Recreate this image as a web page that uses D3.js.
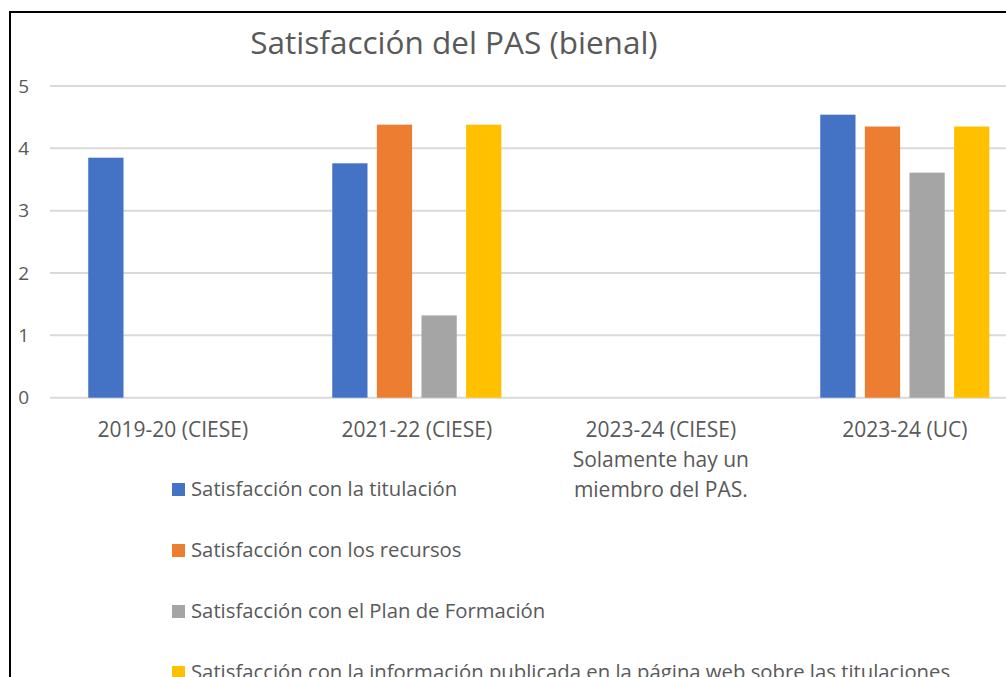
<!DOCTYPE html>
<html lang="es">

<head>
    <meta charset="UTF-8">
    <script src="https://d3js.org/d3.v7.min.js"></script>
    <title>Satisfacción del PAS (bienal)</title>
    <style>
        body { margin: 0; overflow: hidden; background: #fff; }
        text { font-family: "Open Sans", "Noto Sans", sans-serif; fill: #595959; }
    </style>
</head>

<body>
    <script>
        // datos
        var categories = ["2019-20 (CIESE)", "2021-22 (CIESE)", "2023-24 (CIESE)", "2023-24 (UC)"];
        var categoryNotes = [[], [], ["Solamente hay un", "miembro del PAS."], []];
        var seriesNames = [
            "Satisfacción con la titulación",
            "Satisfacción con los recursos",
            "Satisfacción con el Plan de Formación",
            "Satisfacción con la información publicada en la página web sobre las titulaciones"
        ];
        var titulacion = [3.85, 3.76, null, 4.54];
        var recursos = [null, 4.38, null, 4.35];
        var formacion = [null, 1.32, null, 3.61];
        var web = [null, 4.38, null, 4.35];
        var yTicks = [0, 1, 2, 3, 4, 5];
        var colors = ["#4472C4", "#ED7D31", "#A5A5A5", "#FFC000"];

        var w = 1006,
            h = 677;
        var seriesValues = [titulacion, recursos, formacion, web];

        var svg = d3.select("body").append("svg").attr("width", w).attr("height", h);

        // marco del gráfico (se sale por la derecha y por abajo)
        svg.append("rect")
            .attr("x", 10).attr("y", 12)
            .attr("width", 1100).attr("height", 800)
            .attr("fill", "#fff").attr("stroke", "#000").attr("stroke-width", 2);

        var x0 = d3.scaleBand().domain(categories).range([50.8, 1026.8])
            .paddingInner(0.307).paddingOuter(0.1535);
        var x1 = d3.scaleBand().domain(d3.range(seriesNames.length))
            .range([0, x0.bandwidth()]).paddingInner(0.21);
        var y = d3.scaleLinear().domain([0, 5]).range([397.7, 86]);

        // rejilla
        svg.append("g").selectAll("line").data(yTicks).enter().append("line")
            .attr("x1", 50).attr("x2", 1030)
            .attr("y1", function(d) { return y(d); })
            .attr("y2", function(d) { return y(d); })
            .attr("stroke", "#d9d9d9").attr("stroke-width", 2);

        var yAxis = svg.append("g").attr("transform", "translate(29,0)")
            .call(d3.axisLeft(y).tickValues(yTicks).tickSize(0).tickPadding(0).tickFormat(d3.format("d")));
        yAxis.select(".domain").remove();
        yAxis.selectAll("text").style("font-size", "19px").attr("fill", "#595959");

        // barras
        var groups = svg.append("g").selectAll("g").data(categories).enter().append("g")
            .attr("transform", function(d) { return "translate(" + x0(d) + ",0)"; });

        groups.selectAll("rect")
            .data(function(d, i) {
                return seriesValues.map(function(s, k) { return { k: k, v: s[i] }; })
                    .filter(function(e) { return e.v != null; });
            })
            .enter().append("rect")
            .attr("x", function(d) { return x1(d.k); })
            .attr("y", function(d) { return y(d.v); })
            .attr("width", x1.bandwidth())
            .attr("height", function(d) { return y(0) - y(d.v); })
            .attr("fill", function(d) { return colors[d.k]; });

        // etiquetas de categoría
        var xAxis = svg.append("g").attr("transform", "translate(0," + y(0) + ")")
            .call(d3.axisBottom(x0).tickSize(0).tickPadding(0));
        xAxis.select(".domain").remove();
        xAxis.selectAll("text").remove();
        xAxis.selectAll(".tick").append("text")
            .attr("text-anchor", "middle")
            .style("font-size", "21px")
            .each(function(d, i) {
                var lines = [d].concat(categoryNotes[i]);
                var t = d3.select(this);
                lines.forEach(function(l, j) {
                    t.append("tspan").attr("x", 0).attr("y", 39 + j * 30).text(l);
                });
            });

        // título
        svg.append("text")
            .attr("x", 454).attr("y", 54)
            .attr("text-anchor", "middle")
            .style("font-size", "31.5px")
            .text("Satisfacción del PAS (bienal)");

        // leyenda
        var legend = svg.append("g").selectAll("g").data(seriesNames).enter().append("g")
            .attr("transform", function(d, i) { return "translate(172," + (483 + i * 61) + ")"; });
        legend.append("rect").attr("width", 13).attr("height", 13)
            .attr("fill", function(d, i) { return colors[i]; });
        legend.append("text").attr("x", 19).attr("y", 12.5)
            .style("font-size", "20.3px")
            .text(function(d) { return d; });
    </script>
</body>

</html>
